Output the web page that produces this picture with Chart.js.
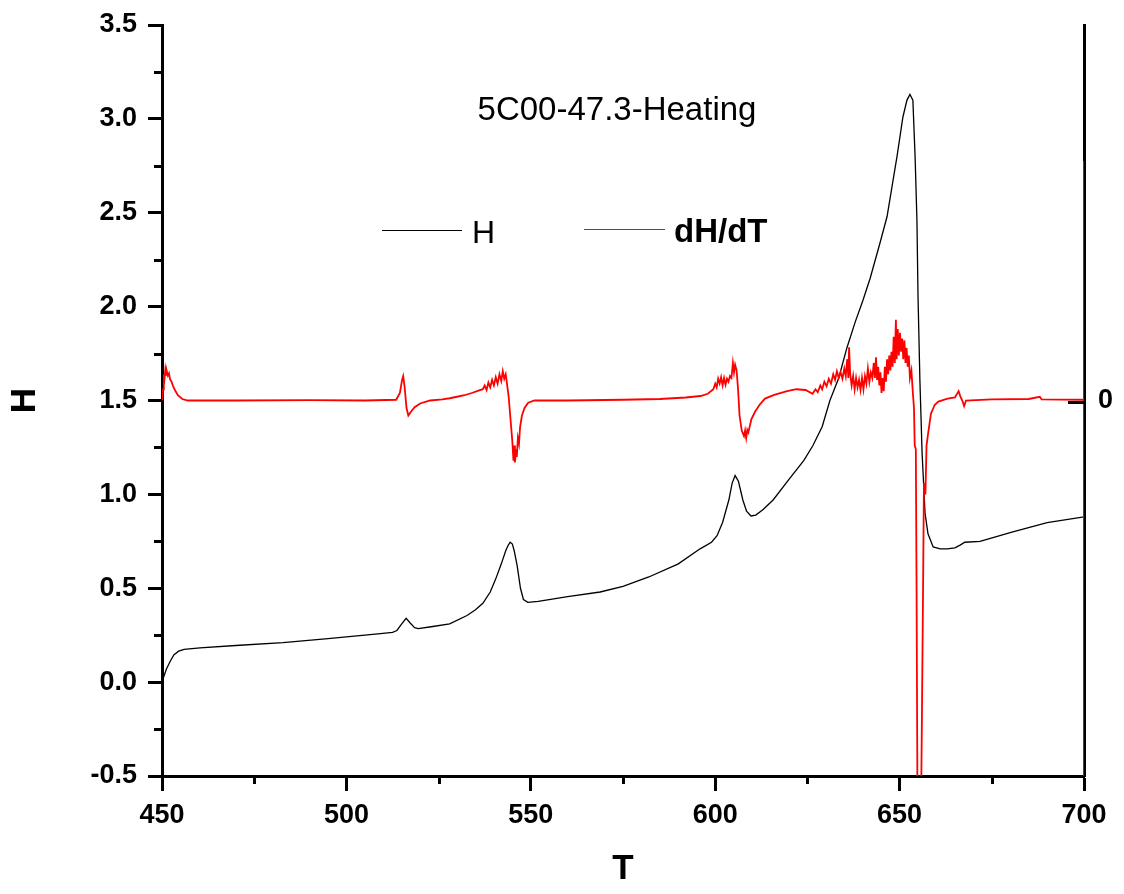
<!DOCTYPE html>
<html>
<head>
<meta charset="utf-8">
<title>5C00-47.3-Heating</title>
<script src="https://cdn.jsdelivr.net/npm/chart.js@4.4.1/dist/chart.umd.min.js"></script>
<style>
  body { margin: 0; background: #fff; }
  #wrap { position: relative; width: 1124px; height: 894px; font-family: Arial, "Liberation Sans", sans-serif; }
  #wrap canvas { position: absolute; left: 0; top: 0; }
  .txt { position: absolute; color: #000; white-space: nowrap; line-height: 1; transform: translate(0, -50%); }
  .key { position: absolute; height: 1px; }
</style>
</head>
<body>
<div id="wrap">
  <canvas id="heat-chart" width="1124" height="894"></canvas>
  <div class="txt" style="left:617px; top:108px; font-size:33px; transform:translate(-50%,-50%);">5C00-47.3-Heating</div>
  <div class="key" style="left:382px; top:230px; width:80px; background:#000;"></div>
  <div class="txt" style="left:472px; top:232px; font-size:32px;">H</div>
  <div class="key" style="left:584px; top:229px; width:81px; background:#ff0000;"></div>
  <div class="txt" style="left:674px; top:230px; font-size:33px; font-weight:bold;">dH/dT</div>
</div>
<script>
// H vs T (black, left axis)
const hT = [450.0, 450.5, 451.2, 452.2, 453.2, 454.5, 456.0, 460.3, 470, 482.8, 495, 505, 509.9, 512.5, 513.7, 515.0, 516.2, 517.3, 518.5, 519.5,
  523, 528, 532.7, 535, 537.0, 539.0, 540.5, 542.0, 543.2, 543.9, 544.4, 545.0, 545.5, 546.3, 547.2, 548.0, 549.2, 552, 560, 568.8,
  575, 582, 590, 595.9, 599, 600.5, 602, 603.7, 604.6, 605.4, 606.3, 607.5, 608.5, 609.7, 611, 613, 615.7, 620, 624, 626.5,
  629, 631.1, 633.5, 635.7, 638, 640, 642, 644.7, 646.6, 648.2, 649.3, 650.9, 652.0, 652.8, 653.6, 654.2, 654.7, 655.0, 655.5, 656.1,
  656.9, 657.7, 659.1, 661, 662.9, 665, 666.4, 667.7, 671.8, 680.7, 690, 700];
const hVal = [0.00, 0.03, 0.07, 0.11, 0.145, 0.165, 0.175, 0.182, 0.195, 0.21, 0.232, 0.25, 0.26, 0.265, 0.275, 0.31, 0.34, 0.315, 0.29, 0.285,
  0.295, 0.31, 0.355, 0.385, 0.42, 0.48, 0.55, 0.63, 0.70, 0.73, 0.745, 0.735, 0.70, 0.62, 0.50, 0.44, 0.425, 0.43, 0.455, 0.48,
  0.51, 0.56, 0.63, 0.71, 0.745, 0.78, 0.85, 0.97, 1.06, 1.10, 1.07, 0.97, 0.91, 0.885, 0.89, 0.92, 0.97, 1.08, 1.18, 1.26,
  1.36, 1.50, 1.62, 1.78, 1.92, 2.03, 2.15, 2.34, 2.48, 2.67, 2.80, 3.01, 3.10, 3.13, 3.10, 2.80, 2.46, 2.05, 1.61, 1.22,
  0.90, 0.79, 0.72, 0.71, 0.71, 0.715, 0.73, 0.745, 0.75, 0.80, 0.85, 0.88];

// dH/dT vs T (red, right axis, zero in the middle)
const dT = [
  450.0, 450.3, 450.5, 450.7, 450.9, 451.1, 451.3, 451.6, 451.9, 452.2,
  452.6, 453.0, 453.5, 454.3, 455.5, 457, 470, 490, 505, 513.5,
  514.5, 515.1, 515.4, 515.8, 516.3, 516.8, 517.5, 518.5, 520, 522.7,
  526, 528, 530, 532, 534, 536, 537, 537.5, 538, 538.5,
  539, 539.5, 540, 540.5, 541, 541.5, 542, 542.4, 542.8, 543.2,
  543.6, 544.0, 544.5, 545.0, 545.3, 545.5, 545.7, 546.0, 546.2, 546.5,
  546.8, 547.1, 547.6, 548.3, 549.3, 551, 560, 575, 585, 592,
  596, 598, 599.5, 600.0, 600.4, 600.8, 601.2, 601.6, 602.0, 602.4,
  602.8, 603.2, 603.6, 604.0, 604.4, 604.8, 605.1, 605.4, 605.8, 606.2,
  606.6, 607.2, 607.8, 608.1, 608.4, 608.7, 609.0, 609.8, 610.8, 612,
  613.5, 616, 619.5, 622, 624.5, 626.4, 627.2, 627.8, 628.5, 629.0,
  629.6, 630.2, 630.8, 631.4, 632.0, 632.5, 633.0, 633.5, 634.0, 634.5,
  635.0, 635.4, 635.8, 636.1, 636.3, 636.6, 637.0, 637.4, 637.8, 638.2,
  638.6, 639.0, 639.4, 639.8, 640.2, 640.6, 641.0, 641.4, 641.8, 642.2,
  642.6, 643.0, 643.3, 643.6, 643.9, 644.2, 644.5, 644.8, 645.1, 645.4,
  645.7, 646.0, 646.3, 646.6, 646.9, 647.2, 647.5, 647.8, 648.1, 648.4,
  648.7, 649.0, 649.2, 649.5, 649.8, 650.1, 650.4, 650.7, 651.0, 651.3,
  651.6, 651.9, 652.2, 652.5, 652.8, 653.2, 653.6, 653.9, 654.1, 654.4,
  654.6, 654.9, 655.3, 655.7, 656.0, 656.3, 656.6, 657.0, 657.3, 657.7,
  658.5, 659.5, 660.5, 663, 665, 666.0, 666.5, 667.0, 667.5, 668,
  675, 685, 688, 688.5, 699.5, 700, 700, 700];
const dVal = [
  0.0, 0.03, 0.07, 0.06, 0.082, 0.068, 0.078, 0.066, 0.072, 0.056,
  0.05, 0.038, 0.028, 0.014, 0.004, 0.0, 0.0, 0.001, 0.0, 0.002,
  0.02, 0.055, 0.065, 0.035, -0.02, -0.04, -0.03, -0.018, -0.008, 0.0,
  0.003, 0.006, 0.01, 0.014, 0.02, 0.027, 0.03, 0.04, 0.028, 0.048,
  0.035, 0.055, 0.04, 0.062, 0.045, 0.07, 0.052, 0.078, 0.058, 0.07,
  0.04, 0.01, -0.05, -0.11, -0.16, -0.12, -0.165, -0.13, -0.15, -0.1,
  -0.115, -0.07, -0.04, -0.02, -0.006, 0.0, 0.0, 0.002, 0.004, 0.008,
  0.012, 0.018, 0.03, 0.045, 0.035, 0.058, 0.045, 0.062, 0.04, 0.06,
  0.042, 0.058, 0.05, 0.065, 0.06, 0.1, 0.075, 0.095, 0.08, 0.03,
  -0.04, -0.08, -0.095, -0.08, -0.1, -0.078, -0.085, -0.05, -0.03, -0.012,
  0.005, 0.015, 0.025, 0.03, 0.028, 0.018, 0.03, 0.022, 0.04, 0.03,
  0.05, 0.038, 0.058, 0.045, 0.07, 0.055, 0.078, 0.06, 0.075, 0.058,
  0.085, 0.065, 0.11, 0.06, 0.142, 0.07, 0.04, 0.065, 0.03, 0.06,
  0.035, 0.055, 0.028, 0.06, 0.03, 0.065, 0.045, 0.085, 0.05, 0.075,
  0.06, 0.1, 0.06, 0.115, 0.055, 0.09, 0.04, 0.075, 0.02, 0.06,
  0.025, 0.09, 0.05, 0.11, 0.07, 0.12, 0.08, 0.13, 0.09, 0.17,
  0.1, 0.215, 0.11, 0.19, 0.12, 0.18, 0.13, 0.165, 0.11, 0.16,
  0.1, 0.14, 0.09, 0.12, 0.06, 0.08, 0.02, -0.02, -0.12, -0.13,
  -0.5, -1.2, -1.3, -1.2, -0.9, -0.57, -0.22, -0.25, -0.12, -0.09,
  -0.035, -0.012, -0.003, 0.005, 0.008, 0.025, 0.01, 0.0, -0.015, 0.0,
  0.003, 0.004, 0.01, 0.003, 0.002, 0.0, -1.3, 0.638];

// minor tick positions
const xMinor = [475, 525, 575, 625, 675];
const yMinor = [-0.25, 0.25, 0.75, 1.25, 1.75, 2.25, 2.75, 3.25];

const tickFont = { family: "Arial, 'Liberation Sans', sans-serif", size: 27, weight: "bold" };
const titleFont = { family: "Arial, 'Liberation Sans', sans-serif", size: 35, weight: "bold" };

let hPoints = [];
for (let i = 0; i < hT.length; i++) {
    hPoints.push({ x: hT[i], y: hVal[i] });
}
let dPoints = [];
for (let i = 0; i < dT.length; i++) {
    dPoints.push({ x: dT[i], y: dVal[i] });
}

// small ticks between the labelled ones + the inward tick on the right axis
const minorTicks = {
    id: "minorTicks",
    afterDraw(chart) {
        const ctx = chart.ctx;
        const area = chart.chartArea;
        ctx.save();
        ctx.strokeStyle = "#000";
        ctx.lineWidth = 3;
        ctx.beginPath();
        xMinor.forEach(v => {
            let px = Math.round(chart.scales.x.getPixelForValue(v)) + 0.5;
            ctx.moveTo(px, area.bottom);
            ctx.lineTo(px, area.bottom + 8);
        });
        yMinor.forEach(v => {
            let py = Math.round(chart.scales.y.getPixelForValue(v)) + 0.5;
            ctx.moveTo(area.left - 8, py);
            ctx.lineTo(area.left, py);
        });
        let zy = Math.round(chart.scales.y2.getPixelForValue(0)) + 1.5;
        ctx.moveTo(area.right - 16, zy);
        ctx.lineTo(area.right, zy);
        ctx.stroke();
        ctx.restore();
    }
};

// fixed box sizes so the plot area lands where the original one is
function fixVertical(s, w) {
    s.width = w;
    s.paddingTop = 0;
    s.paddingBottom = 0;
}

new Chart("heat-chart", {
    type: "line",
    data: {
        datasets: [{
            label: "dH/dT",
            data: dPoints,
            yAxisID: "y2",
            borderColor: "#ff0000",
            borderWidth: 1.8,
            pointRadius: 0,
            tension: 0,
            fill: false
        }, {
            label: "H",
            data: hPoints,
            yAxisID: "y",
            borderColor: "#000000",
            borderWidth: 1.3,
            pointRadius: 0,
            tension: 0,
            fill: false
        }]
    },
    options: {
        responsive: false,
        animation: false,
        devicePixelRatio: 1,
        layout: { padding: { top: 25, left: 0, right: 0, bottom: 0 } },
        plugins: {
            legend: { display: false },
            tooltip: { enabled: false }
        },
        scales: {
            x: {
                type: "linear",
                min: 450,
                max: 700,
                ticks: { stepSize: 50, font: tickFont, color: "#000", padding: 8, maxRotation: 0 },
                grid: { display: true, drawOnChartArea: false, tickLength: 15, tickWidth: 3, tickColor: "#000" },
                border: { display: true, color: "#000", width: 3 },
                title: { display: true, text: "T", font: titleFont, color: "#000", padding: { top: 0, bottom: 4 } },
                afterFit: s => { s.height = 118; s.paddingLeft = 0; s.paddingRight = 0; }
            },
            y: {
                position: "left",
                min: -0.5,
                max: 3.5,
                ticks: { stepSize: 0.5, font: tickFont, color: "#000", padding: 11, callback: v => v.toFixed(1) },
                grid: { display: true, drawOnChartArea: false, tickLength: 14, tickWidth: 3, tickColor: "#000" },
                border: { display: true, color: "#000", width: 3 },
                title: { display: true, text: "H", font: titleFont, color: "#000", padding: { top: 4, bottom: 0 } },
                afterFit: s => fixVertical(s, 162)
            },
            y2: {
                position: "right",
                min: -1,
                max: 1,
                afterBuildTicks: s => { s.ticks = [{ value: 0 }]; },
                ticks: { font: tickFont, color: "#000", padding: 14, callback: v => "0" },
                grid: { display: false, drawTicks: false },
                border: { display: true, color: "#000", width: 3 },
                afterFit: s => fixVertical(s, 40)
            }
        }
    },
    plugins: [minorTicks]
});
</script>
</body>
</html>
